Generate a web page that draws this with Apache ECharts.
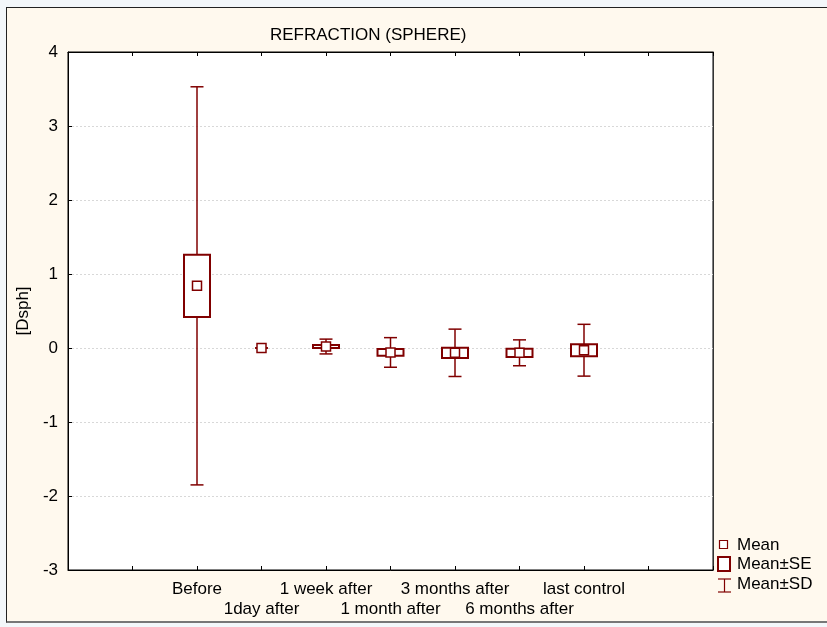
<!DOCTYPE html>
<html>
<head>
<meta charset="utf-8">
<script src="https://cdn.jsdelivr.net/npm/echarts@6/dist/echarts.min.js"></script>
<style>
html,body{margin:0;padding:0;width:827px;height:627px;background:#f3f7fa;overflow:hidden;}
#panel{position:absolute;left:6px;top:7px;width:830px;height:613px;background:#fff9ee;border-left:1px solid #222;border-top:1px solid #222;border-bottom:2px solid #777;}
#chart{position:absolute;left:0;top:0;width:827px;height:627px;}
</style>
</head>
<body>
<div id="panel"></div>
<div id="chart"></div>
<script>
// ---- data ----
const categories = ['Before', '1day after', '1 week after', '1 month after', '3 months after', '6 months after', 'last control'];
const means  = [0.84, 0.00, 0.02, -0.06, -0.065, -0.065, -0.03];
const seVals = [0.42, 0.00, 0.02, 0.045, 0.07, 0.055, 0.08];
const sdVals = [2.69, 0.00, 0.10, 0.20, 0.32, 0.175, 0.35];
const padSlots = ['pad0', 'pad1'];
const padSlotsEnd = ['pad2', 'pad3'];
const yTicks = [-3, -2, -1, 0, 1, 2, 3, 4];
const titleText = 'REFRACTION (SPHERE)';
const yName = '[Dsph]';
const legendNames = ['Mean', 'Mean\u00B1SE', 'Mean\u00B1SD'];

const slots = padSlots.concat(categories, padSlotsEnd);
const catSet = new Set(categories);
const C = '#800000';
const FONT = 'Liberation Sans';
const FS = 17;

const chart = echarts.init(document.getElementById('chart'));

function sdItem(params, api) {
  const x = api.value(0), m = api.value(1), sd = api.value(2);
  const top = api.coord([x, m + sd]);
  const bot = api.coord([x, m - sd]);
  const cap = 6.5;
  return {
    type: 'group',
    children: [
      {type: 'line', shape: {x1: top[0], y1: top[1], x2: bot[0], y2: bot[1]}, style: {stroke: C, lineWidth: 1.5}},
      {type: 'line', shape: {x1: top[0] - cap, y1: top[1], x2: top[0] + cap, y2: top[1]}, style: {stroke: C, lineWidth: 1.5}},
      {type: 'line', shape: {x1: bot[0] - cap, y1: bot[1], x2: bot[0] + cap, y2: bot[1]}, style: {stroke: C, lineWidth: 1.5}}
    ]
  };
}
function seItem(params, api) {
  const x = api.value(0), m = api.value(1), se = api.value(2);
  if (!(se > 0)) return null;
  const top = api.coord([x, m + se]);
  const bot = api.coord([x, m - se]);
  const hw = 13;
  return {type: 'rect', shape: {x: top[0] - hw, y: top[1], width: 2 * hw, height: bot[1] - top[1]},
          style: {fill: '#fff', stroke: C, lineWidth: 2}};
}
function meanItem(params, api) {
  const p = api.coord([api.value(0), api.value(1)]);
  const h = 4.5;
  return {type: 'rect', shape: {x: p[0] - h, y: p[1] - h, width: 2 * h, height: 2 * h},
          style: {fill: '#fff', stroke: C, lineWidth: 1.5}};
}

const option = {
  backgroundColor: 'transparent',
  animation: false,
  textStyle: {fontFamily: FONT},
  title: {text: titleText, left: 265, top: 22,
          textStyle: {fontFamily: FONT, fontSize: FS, fontWeight: 'normal', color: '#000'}},
  grid: {left: 68, right: 114, top: 52, bottom: 57, show: true, backgroundColor: '#fff', borderColor: '#000', borderWidth: 1},
  xAxis: [
    {type: 'category', data: slots, boundaryGap: false, position: 'bottom',
     axisLine: {onZero: false, lineStyle: {color: '#000', width: 1}},
     axisTick: {inside: true, length: 4, interval: 0, lineStyle: {color: '#000'}},
     axisLabel: {interval: 0, margin: 9, color: '#000', fontSize: FS, fontFamily: FONT, lineHeight: 20,
       formatter: function (v) {
         if (!catSet.has(v)) return '';
         const i = categories.indexOf(v);
         return i % 2 === 0 ? v : '\n' + v;
       }},
     splitLine: {show: false}},
    {type: 'category', data: slots, boundaryGap: false, position: 'top',
     axisLine: {onZero: false, lineStyle: {color: '#000', width: 1}},
     axisTick: {inside: true, length: 4, interval: 0, lineStyle: {color: '#000'}},
     axisLabel: {show: false}, splitLine: {show: false}}
  ],
  yAxis: [
    {type: 'value', min: yTicks[0], max: yTicks[yTicks.length - 1], interval: 1, position: 'left',
     name: yName, nameLocation: 'middle', nameGap: 36, nameRotate: 90,
     nameTextStyle: {color: '#000', fontSize: FS, fontFamily: FONT},
     axisLine: {show: true, onZero: false, lineStyle: {color: '#000', width: 1}},
     axisTick: {show: true, inside: true, length: 4, lineStyle: {color: '#000'}},
     axisLabel: {color: '#000', fontSize: FS, fontFamily: FONT, margin: 10},
     splitLine: {show: true, lineStyle: {color: '#d8d8d8', type: [2, 2], width: 1}}},
    {type: 'value', min: yTicks[0], max: yTicks[yTicks.length - 1], interval: 1, position: 'right',
     axisLine: {show: true, onZero: false, lineStyle: {color: '#333', width: 1}},
     axisTick: {show: false},
     axisLabel: {show: false}, splitLine: {show: false}}
  ],
  series: [
    {name: legendNames[2], type: 'custom', renderItem: sdItem, encode: {x: 0, y: 1},
     data: categories.map((c, i) => [c, means[i], sdVals[i]])},
    {name: legendNames[1], type: 'custom', renderItem: seItem, encode: {x: 0, y: 1},
     data: categories.map((c, i) => [c, means[i], seVals[i]])},
    {name: legendNames[0], type: 'custom', renderItem: meanItem, encode: {x: 0, y: 1},
     data: categories.map((c, i) => [c, means[i]])}
  ],
  graphic: [
    {type: 'rect', shape: {x: 719.5, y: 540.5, width: 8, height: 8}, style: {fill: '#fff', stroke: C, lineWidth: 1.2}},
    {type: 'text', x: 737, y: 545, style: {text: legendNames[0], fill: '#000', font: FS + 'px "Liberation Sans"', verticalAlign: 'middle'}},
    {type: 'rect', shape: {x: 718, y: 557, width: 12, height: 14}, style: {fill: '#fff', stroke: C, lineWidth: 2}},
    {type: 'text', x: 737, y: 564, style: {text: legendNames[1], fill: '#000', font: FS + 'px "Liberation Sans"', verticalAlign: 'middle'}},
    {type: 'line', shape: {x1: 718, y1: 579, x2: 731, y2: 579}, style: {stroke: C, lineWidth: 1.2}},
    {type: 'line', shape: {x1: 724.5, y1: 579, x2: 724.5, y2: 592}, style: {stroke: C, lineWidth: 1.2}},
    {type: 'line', shape: {x1: 718, y1: 592, x2: 731, y2: 592}, style: {stroke: C, lineWidth: 1.2}},
    {type: 'text', x: 737, y: 584, style: {text: legendNames[2], fill: '#000', font: FS + 'px "Liberation Sans"', verticalAlign: 'middle'}}
  ]
};
chart.setOption(option);
</script>
</body>
</html>
